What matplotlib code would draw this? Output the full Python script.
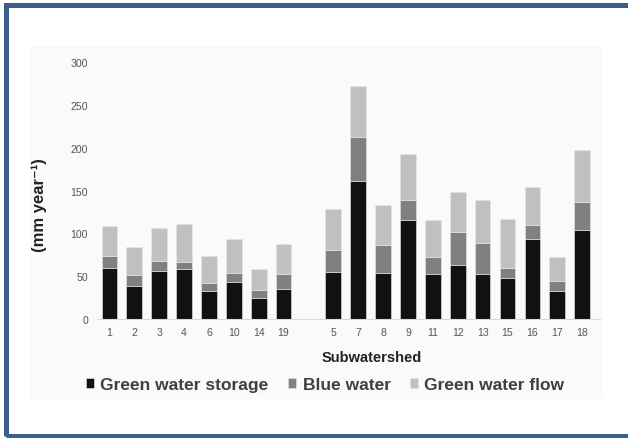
import matplotlib
matplotlib.use("Agg")
import matplotlib.pyplot as plt
import numpy as np
from matplotlib.patches import Rectangle

plt.rcParams['font.family'] = ['Liberation Sans', 'DejaVu Sans']

# subwatersheds, two groups separated by a gap
group1 = ['1', '2', '3', '4', '6', '10', '14', '19']
group2 = ['5', '7', '8', '9', '11', '12', '13', '15', '16', '17', '18']

# mm/year
storage = [60, 39, 56, 58, 33, 43, 25, 35,
           55, 161, 54, 116, 53, 63, 52, 48, 93, 33, 104]
blue = [13, 12, 12, 8, 9, 11, 9, 17,
        26, 52, 32, 23, 19, 39, 37, 11, 17, 11, 33]
flow = [35, 33, 38, 45, 32, 39, 24, 35,
        47, 59, 47, 54, 44, 46, 50, 58, 44, 28, 60]

labels = group1 + group2
xs = np.r_[np.arange(len(group1)), np.arange(len(group2)) + len(group1) + 1]

W, H = 628, 439
fig = plt.figure(figsize=(W / 100, H / 100), dpi=100)

# faint panel + blue frame
fig.patches.append(Rectangle((30 / W, 1 - 400 / H), 573 / W, 353 / H,
                             transform=fig.transFigure, facecolor='#fafafa',
                             edgecolor='none', zorder=-10))
fig.patches.append(Rectangle((5.8 / W, 1 - 436.5 / H), 640 / W, 430.5 / H,
                             transform=fig.transFigure, facecolor='none',
                             edgecolor='#3b5e8c', linewidth=3.6, zorder=-9))

ax = fig.add_axes([97 / W, 1 - 320 / H, 503 / W, 257 / H])
ax.set_zorder(5)
ax.set_facecolor('none')

c_storage, c_blue, c_flow = '#111111', '#808080', '#c0c0c0'
bw = 0.63
s = np.array(storage)
b = np.array(blue)
f = np.array(flow)
ax.bar(xs, s, bw, color=c_storage, edgecolor='#e8e8e8', linewidth=0.4, label='Green water storage')
ax.bar(xs, b, bw, bottom=s, color=c_blue, edgecolor='#e8e8e8', linewidth=0.4, label='Blue water')
ax.bar(xs, f, bw, bottom=s + b, color=c_flow, edgecolor='#e8e8e8', linewidth=0.4, label='Green water flow')

ax.set_xlim(-0.5, 19.72)
ax.set_ylim(0, 300)
ax.set_yticks(range(0, 301, 50))
ax.set_xticks(xs)
ax.set_xticklabels(labels)
ax.tick_params(axis='both', length=0, labelsize=7.6, labelcolor='#555555')
ax.tick_params(axis='x', pad=5.8)
ax.tick_params(axis='y', pad=6.5)
for sp in ['top', 'right', 'left']:
    ax.spines[sp].set_visible(False)
ax.spines['bottom'].set_color('#d9d9d9')
ax.spines['bottom'].set_linewidth(0.8)

ax.set_ylabel('(mm year\u207b\u00b9)', fontsize=12, fontweight='bold', color='#222222')
ax.yaxis.set_label_coords(-0.099, 0.447)
ax.set_xlabel('Subwatershed', fontsize=10.5, fontweight='bold', color='#222222')
ax.xaxis.set_label_coords(0.547, -0.121)

fig.legend(loc='center', bbox_to_anchor=(325 / W, 1 - 386 / H), ncol=3, frameon=False,
           prop={'size': 12.5, 'weight': 'bold'}, labelcolor='#404040',
           handlelength=0.5, handleheight=0.5, handletextpad=0.35, columnspacing=1.1)

fig.savefig('out.png', dpi=100)
